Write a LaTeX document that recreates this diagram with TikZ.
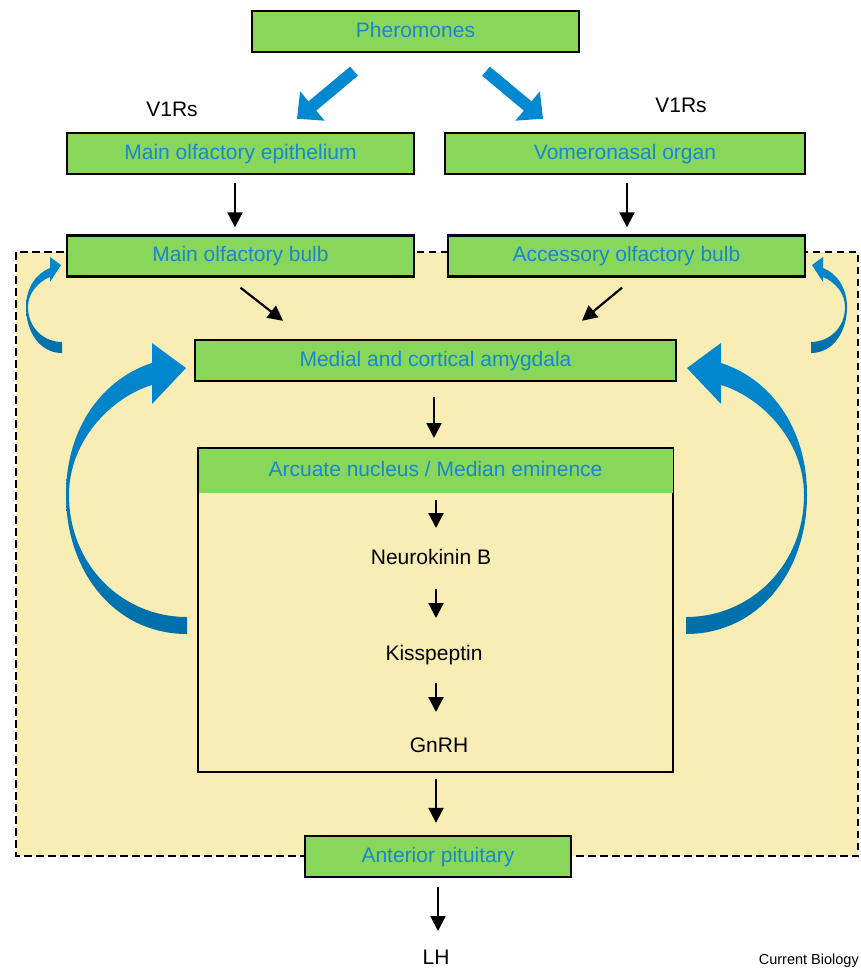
\documentclass[tikz,border=0pt]{standalone}
\usepackage{xcolor}
\usepackage{fontspec}
\setmainfont{Liberation Sans}
\usetikzlibrary{arrows.meta, calc}

\definecolor{boxgreen}{RGB}{136,214,90}
\definecolor{zonebg}{RGB}{247,237,181}
\definecolor{labelblue}{RGB}{24,136,208}
\definecolor{fbtop}{RGB}{0,137,209}
\definecolor{fbbot}{RGB}{0,111,170}

\begin{document}
\begin{tikzpicture}[x=1pt, y=-1pt, >={Triangle[length=15pt, width=15pt]},
  every node/.style={font=\fontsize{21}{25}\selectfont, inner sep=0pt},
  region/.style={draw, line width=2.4pt, fill=boxgreen, text=labelblue, minimum height=41pt, text height=15pt, text depth=4pt},
  flow/.style={->, line width=2.2pt},
  signal/.style={-{Triangle[length=20pt, width=37pt]}, line width=12pt, draw=fbtop},
  feedback/.style={top color=fbtop, bottom color=fbbot, draw=none}]
  \useasboundingbox (0,0) rectangle (861,969);

  % hypothalamic zone behind the lower boxes
  \draw[fill=zonebg, line width=2pt, dash pattern=on 7.5pt off 4.5pt] (16,252) rectangle (858,856);

  \node[region, minimum width=327pt] (pher) at (415.5,31.5) {Pheromones};
  \node[region, minimum width=347pt] (moe) at (240.5,153.5) {Main olfactory epithelium};
  \node[region, minimum width=360pt] (vno) at (625,153.5) {Vomeronasal organ};
  \node[region, minimum width=347pt] (mob) at (240.5,256) {Main olfactory bulb};
  \node[region, minimum width=357pt] (aob) at (626.5,256) {Accessory olfactory bulb};
  \node[region, minimum width=481pt] (amyg) at (435.5,360.5) {Medial and cortical amygdala};
  \node[draw, line width=2pt, minimum width=475pt, minimum height=324pt] (arc) at (435.5,610) {};
  \node[fill=boxgreen, text=labelblue, minimum width=474pt, minimum height=44pt, text height=15pt, text depth=4pt] (arch) at (435.5,471) {Arcuate nucleus / Median eminence};
  \node[region, minimum width=266pt] (pit) at (438,856.5) {Anterior pituitary};

  \node[anchor=base] (v1l) at (172,116) {V1Rs};
  \node[anchor=base] (v1r) at (681,112) {V1Rs};
  \node[anchor=base] (nkb) at (431,564) {Neurokinin B};
  \node[anchor=base] (kiss) at (434,660) {Kisspeptin};
  \node[anchor=base] (gnrh) at (439,752) {GnRH};
  \node[anchor=base] (lh) at (436,964) {LH};
  \node[anchor=base east, font=\fontsize{14.5}{17}\selectfont] (credit) at (859,964) {Current Biology};

  % pheromone input
  \draw[signal] ($(pher.south)+(-61.5,18)$) -- ($(moe.north)+(56.5,-13)$);
  \draw[signal] ($(pher.south)+(70.5,18)$) -- ($(vno.north)+(-82,-13)$);

  % forward pathway
  \draw[flow] ($(moe.south)+(-5.5,8)$) -- ($(mob.north)+(-5.5,-7)$);
  \draw[flow] ($(vno.south)+(2,8)$) -- ($(aob.north)+(0.5,-7)$);
  \draw[flow] ($(mob.south)+(0,10)$) -- ($(amyg.north)+(-152.5,-18)$);
  \draw[flow] ($(aob.south)+(-4.5,10)$) -- ($(amyg.north)+(146.5,-18)$);
  \draw[flow] ($(amyg.south)+(-1.5,15)$) -- ($(arc.north)+(-1.5,-9)$);
  \draw[flow] ($(arch.south)+(0.5,7)$) -- ($(nkb.base)+(5,-36)$);
  \draw[flow] ($(nkb.base)+(5,25)$) -- ($(kiss.base)+(2,-42)$);
  \draw[flow] ($(kiss.base)+(2,23)$) -- ($(gnrh.base)+(-3,-40)$);
  \draw[flow] ($(arc.south)+(0.5,6)$) -- ($(pit.north)+(-2,-12)$);
  \draw[flow] ($(pit.south)+(0,9)$) -- ($(lh.base)+(2,-33)$);

  % feedback loops, left side then mirrored
  \foreach \s/\dx in {1/0, -1/873} {
    \begin{scope}[xshift=\dx pt, xscale=\s]
      \shade[feedback] (62,353) .. controls (40,353) and (26,332) .. (26,307)
        .. controls (26,287) and (37,273) .. (50,268) -- (50,257) -- (61,265) -- (50,282) -- (50,277)
        .. controls (38,282) and (28,293) .. (28,307) .. controls (28,328) and (44,342) .. (62,342) -- cycle;
      \shade[feedback] (187,634) .. controls (115,634) and (66,572) .. (66,495)
        .. controls (66,425) and (105,378) .. (152,363) -- (152,343) -- (186,368) -- (152,404) -- (152,385)
        .. controls (112,397) and (69,440) .. (69,495) .. controls (69,565) and (122,617) .. (187,617) -- cycle;
    \end{scope}
  }
\end{tikzpicture}
\end{document}
